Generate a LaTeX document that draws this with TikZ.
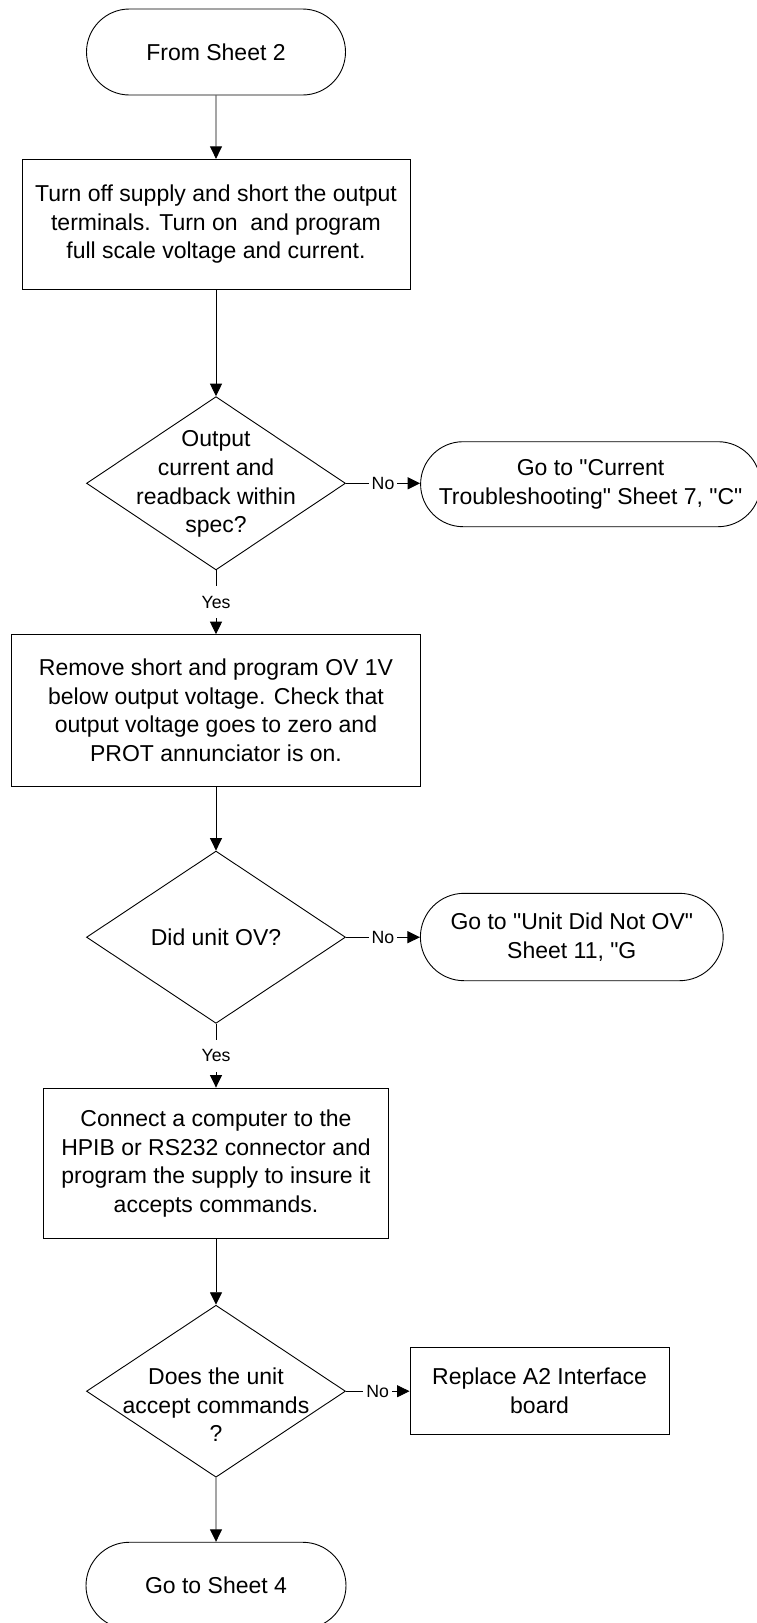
\documentclass[tikz,border=0pt]{standalone}
\usepackage{fontspec}
\setmainfont{Liberation Sans}[Ligatures=TeXOff]
\usetikzlibrary{shapes.geometric,shapes.misc,arrows.meta}
\begin{document}
\begin{tikzpicture}[x=1pt,y=-1pt,
  every node/.style={font=\fontsize{23}{28.7}\selectfont, align=center, inner sep=0pt},
  term/.style={rounded rectangle, draw, line width=0.9pt, fill=white},
  procbox/.style={rectangle, draw, line width=0.9pt},
  decis/.style={diamond, draw, line width=0.9pt},
  conn/.style={line width=0.9pt, -{Triangle[width=12pt,length=12.5pt]}},
  lbl/.style={font=\fontsize{17.7}{20}\selectfont, fill=white, inner xsep=3pt, inner ysep=10pt}
]
\useasboundingbox (0,0) rectangle (756,1623);

\node[term, minimum width=259pt, minimum height=86pt] (t1) at (216,52) {From Sheet 2};
\node[procbox, minimum width=388pt, minimum height=130pt] (b1) at (216,224.3)
  {Turn off supply and short the output\\terminals. Turn on~ and program\\full scale voltage and current.};

\node[decis, minimum width=259pt, minimum height=173.3pt] (d1) at (216,483.3) {};
\node (d1t) at (216,484.2) {Output\\current and\\readback within\\spec?};
\node[term, minimum width=340pt, minimum height=85pt] (t2) at (590.6,484.2)
  {Go to "Current\\Troubleshooting" Sheet 7, "C"};

\node[procbox, minimum width=409.8pt, minimum height=151.3pt] (b2) at (216,710.3)
  {Remove short and program OV 1V\\below output voltage. Check that\\output voltage goes to zero and\\PROT annunciator is on.};

\node[decis, minimum width=259pt, minimum height=172.3pt] (d2) at (216,937.2) {};
\node (d2t) at (216,937) {Did unit OV?};
\node[term, minimum width=302.8pt, minimum height=87.4pt] (t3) at (571.8,937)
  {Go to "Unit Did Not OV"\\Sheet 11, "G};

\node[procbox, minimum width=345.7pt, minimum height=150.8pt] (b3) at (216,1163.4)
  {Connect a computer to the\\HPIB or RS232 connector and\\program the supply to insure it\\accepts commands.};

\node[decis, minimum width=259pt, minimum height=172pt] (d3) at (216,1391.2) {};
\node (d3t) at (216,1404.7) {Does the unit\\accept commands\\?};
\node[procbox, minimum width=259.2pt, minimum height=86.8pt] (b4) at (539.6,1390.7)
  {Replace A2 Interface\\board};

\node[term, minimum width=260pt, minimum height=86.7pt] (t4) at (216,1585.6) {Go to Sheet 4};

\draw[conn] (t1) -- (b1);
\draw[conn] (b1) -- (d1);
\draw[conn] (d1.east) -- node[lbl] (no1) {No} (d1.east -| t2.west);
\draw[conn] (d1.south) -- node[lbl] (yes1) {Yes} (b2.north);
\draw[conn] (b2) -- (d2);
\draw[conn] (d2.east) -- node[lbl] (no2) {No} (d2.east -| t3.west);
\draw[conn] (d2.south) -- node[lbl] (yes2) {Yes} (b3.north);
\draw[conn] (b3) -- (d3);
\draw[conn] (d3.east) -- node[lbl] (no3) {No} (d3.east -| b4.west);
\draw[conn] (d3) -- (t4);
\end{tikzpicture}
\end{document}
